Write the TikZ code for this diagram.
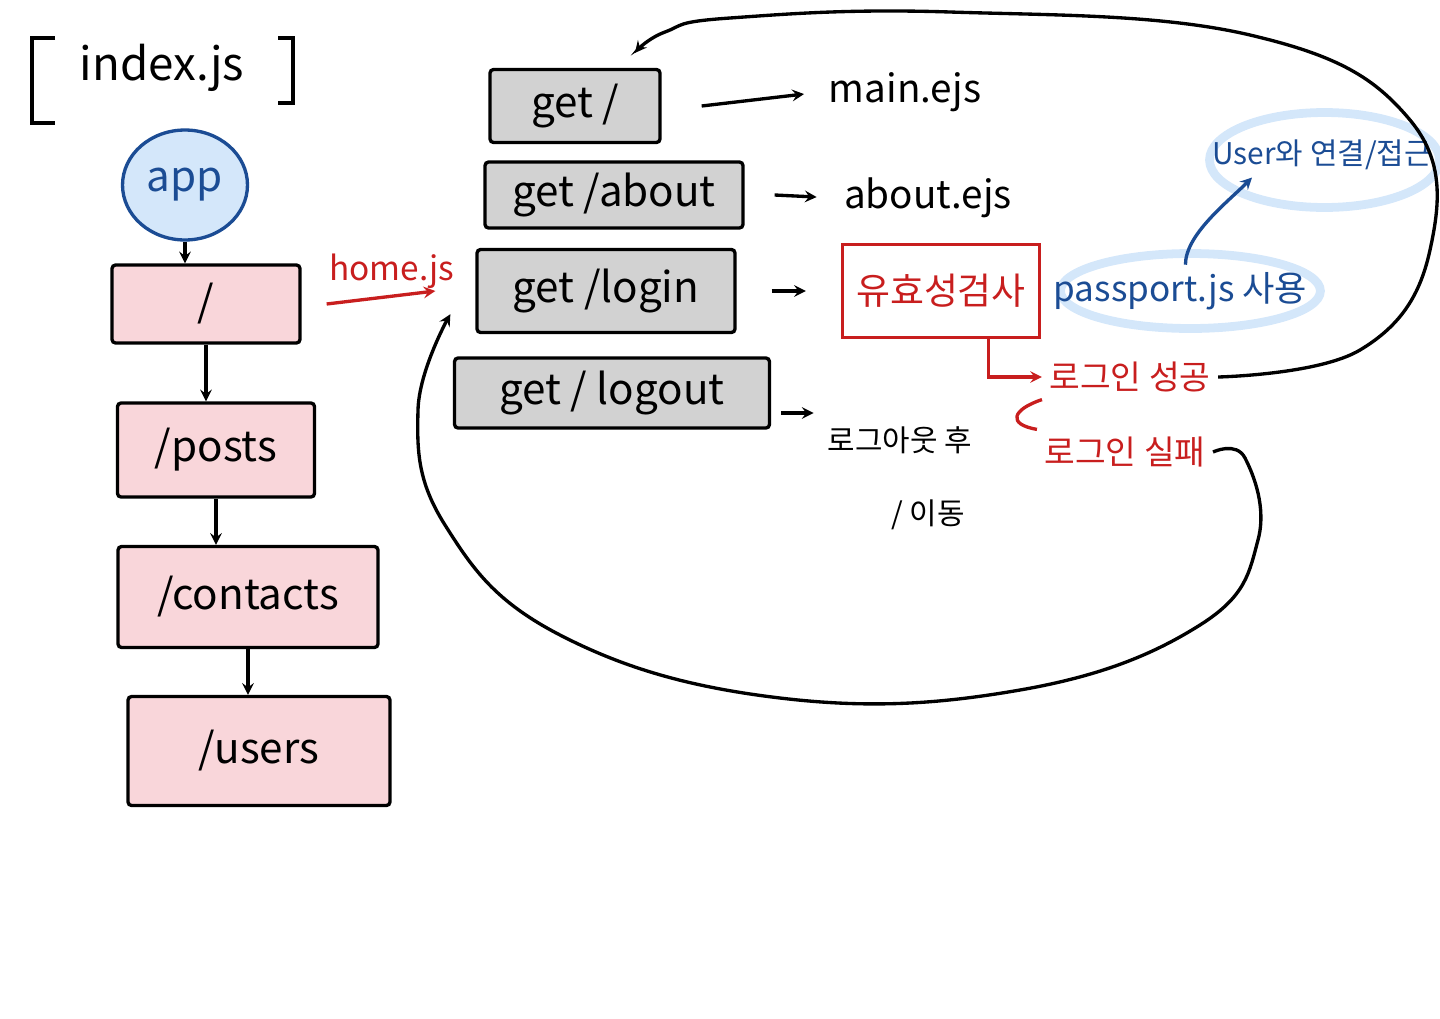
\documentclass[tikz,border=0pt]{standalone}
\usepackage{fontspec}
\setmainfont{Noto Sans CJK KR}
\usetikzlibrary{shapes.geometric,positioning,backgrounds}
\definecolor{pagepink}{HTML}{F9D6DA}
\definecolor{getgray}{HTML}{D2D2D2}
\definecolor{penred}{HTML}{C81E1E}
\definecolor{penblue}{HTML}{1B4C94}
\definecolor{ringblue}{HTML}{D4E7FA}
\tikzset{
	pagebox/.style={draw,rounded corners=2pt,fill=pagepink,font=\fontsize{24}{28}\selectfont},
	getbox/.style={draw,rounded corners=2pt,fill=getgray,font=\fontsize{24}{28}\selectfont},
	note/.style={font=\fontsize{22}{26}\selectfont},
	rednote/.style={text=penred,font=\fontsize{19}{23}\selectfont},
	ring/.style={ellipse,draw=ringblue,line width=5pt},
}
\begin{document}
\begin{tikzpicture}[>=stealth,x=0.02cm,y=-0.02cm,line width=1.9pt]
		\useasboundingbox (0,0) rectangle (1440,1018);
		% index.js column
		\node[font=\fontsize{26}{30}\selectfont] (idx) at (162,68) {index.js};
		\draw (55,38) -- (32,38) -- (32,123) -- (55,123);
		\draw (278,38) -- (293,38) -- (293,103) -- (278,103);
		\node[ellipse,draw=penblue,fill=ringblue,text=penblue,minimum width=2.5cm,minimum height=2.2cm,font=\fontsize{24}{28}\selectfont] (app) at (185,185) {app};
		\node[pagebox,minimum width=3.76cm,minimum height=1.56cm] (s1) at (206,304) {/};
		\node[pagebox,minimum width=3.94cm,minimum height=1.88cm] (s2) at (216,450) {/posts};
		\node[pagebox,minimum width=5.2cm,minimum height=2.02cm] (s3) at (248,597) {/contacts};
		\node[pagebox,minimum width=5.24cm,minimum height=2.18cm] (s4) at (259,751) {/users};
		\foreach \a/\b in {app/s1,s1/s2,s2/s3,s3/s4}
			\draw[->] (\a.south) -- (\a.south |- \b.north);
		% home.js routes
		\node[getbox,minimum width=3.4cm,minimum height=1.46cm] (g1) at (575,106) {get /};
		\node[getbox,minimum width=5.16cm,minimum height=1.32cm] (g2) at (614,195) {get /about};
		\node[getbox,minimum width=5.16cm,minimum height=1.66cm] (g3) at (606,291) {get /login};
		\node[getbox,minimum width=6.3cm,minimum height=1.4cm] (g4) at (612,393) {get / logout};
		\draw[penred,->] ([xshift=0.5cm]s1.east) -- ([xshift=-0.8cm]g3.west) node[pos=0.6,above,rednote] {home.js};
		\node[note] (main) at (905,92) {main.ejs};
		\node[note] (about) at (928,198) {about.ejs};
		\node[draw=penred,text=penred,minimum width=3.94cm,minimum height=1.86cm,font=\fontsize{21}{25}\selectfont] (valid) at (941,291) {유효성검사};
		\node[text=penblue,font=\fontsize{20}{24}\selectfont,right=0.1cm of valid] (pp) {passport.js 사용};
		\node[text=penblue,font=\fontsize{17}{21}\selectfont] (usr) at (1322,155) {User와 연결/접근};
		\begin{scope}[on background layer]
			\node[ring,minimum width=5.2cm,minimum height=1.5cm] at ([xshift=0.2cm]pp.center) {};
			\node[ring,minimum width=4.6cm,minimum height=1.9cm] at ([xshift=0.05cm,yshift=-0.1cm]usr.center) {};
		\end{scope}
		\node[rednote] (ok) at (1130,377) {로그인 성공};
		\node[rednote] (fail) at (1125,452) {로그인 실패};
		\node[font=\fontsize{17}{21}\selectfont] (out) at (900,440) {로그아웃 후};
		\node[font=\fontsize{17}{21}\selectfont] (home) at (928,515) {/ 이동};
		\draw[->,shorten >=0.35cm] ([xshift=0.8cm]g1.east) -- (main.west);
		\draw[->,shorten >=0.4cm] ([xshift=0.6cm]g2.east) -- (about.west);
		\draw[->,shorten >=0.7cm] ([xshift=0.7cm]g3.east) -- (valid.west);
		\draw[->] ([xshift=0.2cm,yshift=-0.4cm]g4.east) -- ([xshift=0.85cm,yshift=-0.4cm]g4.east);
		\draw[penblue,->] ([xshift=0.1cm]pp.north) .. controls +(0,-30) and +(-25,25) .. ([xshift=-1.4cm]usr.south);
		\draw[penred,->] ([xshift=0.95cm]valid.south) |- (ok.west);
		\draw[penred] (ok.south west) .. controls +(-30,10) and +(-30,-5) .. (fail.north west);
		% back to the routes
		\draw[->] plot[smooth,tension=.7] coordinates{(ok.east) (1360,350) (1430,250) (1410,120) (1250,35) (950,12) (730,18) (665,32) ([xshift=1.2cm,yshift=0.3cm]g1.north)};
		\draw[->] plot[smooth,tension=.7] coordinates{(fail.east) (1245,458) (1258,540) (1200,625) (1020,690) (780,698) (560,635) (445,525) (418,410) ([shift={(-0.5cm,0.4cm)}]g3.south west)};
		\end{tikzpicture}
\end{document}
